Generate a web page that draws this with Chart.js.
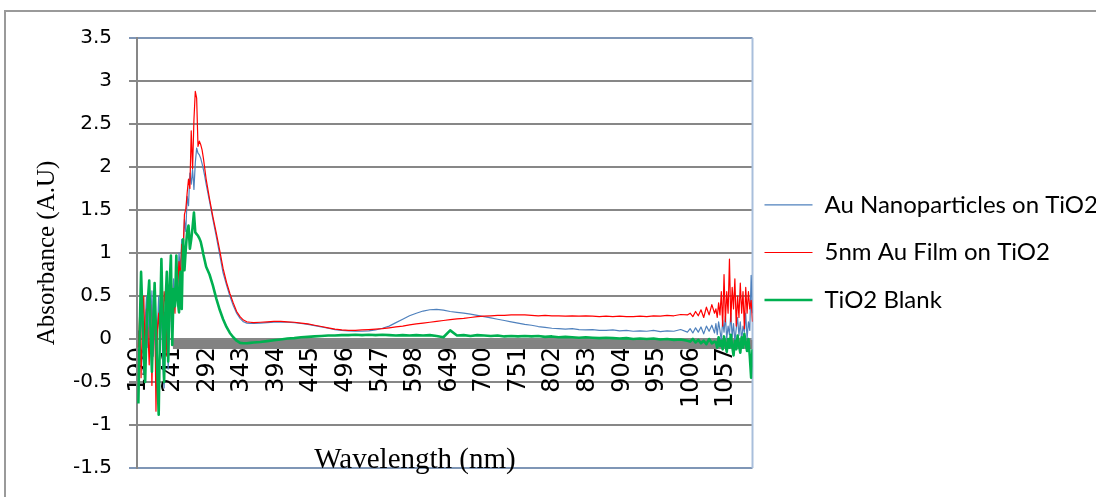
<!DOCTYPE html>
<html lang="en">
<head>
<meta charset="UTF-8">
<title>Absorbance spectra</title>
<style>
  html, body { margin: 0; padding: 0; background: #fff; overflow: hidden; }
  .frame { position: absolute; left: 4px; top: 10px; width: 1200px; height: 600px; border: 2px solid #9a9a9a; }
  #chart { position: absolute; left: 0; top: 0; }
</style>
</head>
<body>
<div class="frame"></div>
<canvas id="chart" width="1096" height="497"></canvas>
<script src="https://cdn.jsdelivr.net/npm/chart.js"></script>
<script>
// wavelength grid (nm), denser where the spectra are noisy
const wavelength = [
  190,192,194,196,198,200,202,204,206,208,210,212,214,216,218,220,222,224,226,228,
  230,232,234,236,238,240,242,244,246,248,250,252,254,256,258,260,262,264,266,268,
  270,272,274,276,278,280,282,284,286,288,290,
  295,300,305,310,315,320,325,330,335,340,345,350,355,360,
  370,380,390,400,410,420,430,440,450,460,470,480,490,500,510,520,530,540,550,560,
  570,580,590,600,610,620,630,640,650,660,670,680,690,700,710,720,730,740,750,760,
  770,780,790,800,810,820,830,840,850,860,870,880,890,900,910,920,930,940,950,960,
  970,980,990,1000,
  1004,1008,1012,1016,1020,1024,1028,1032,1036,1040,
  1042,1044,1046,1048,1050,1052,1054,1056,1058,1060,1062,1064,1066,1068,1070,1072,
  1074,1076,1078,1080,1082,1084,1086,1088,1090,1092,1094,1096
];

const auNanoparticles = [
  0.1,-0.3,0.4,0.0,-0.4,0.2,0.5,-0.1,0.45,0.0,0.56,-0.2,0.3,-0.45,0.1,0.5,-0.1,0.4,-0.3,-0.57,
  0.2,0.3,-0.35,0.1,0.6,0.25,0.7,0.45,0.85,0.6,1.0,0.8,1.16,1.0,1.39,1.25,1.66,1.55,1.93,1.8,
  1.97,1.74,2.05,2.22,2.16,2.14,2.1,2.04,1.97,1.89,1.8,
  1.6,1.39,1.19,0.98,0.77,0.63,0.5,0.39,0.3,0.24,0.2,0.185,0.18,0.18,
  0.185,0.19,0.195,0.2,0.195,0.19,0.18,0.17,0.155,0.14,0.125,0.11,0.1,0.095,0.09,0.09,0.095,0.105,0.125,0.15,
  0.19,0.23,0.27,0.3,0.325,0.34,0.345,0.335,0.32,0.31,0.3,0.29,0.275,0.26,0.245,0.23,0.215,0.2,0.185,0.17,
  0.16,0.145,0.135,0.125,0.12,0.115,0.12,0.11,0.105,0.11,0.1,0.1,0.105,0.095,0.1,0.09,0.095,0.09,0.1,0.085,
  0.095,0.09,0.11,0.08,
  0.12,0.07,0.13,0.08,0.14,0.06,0.15,0.09,0.16,0.07,
  0.18,0.05,0.2,0.1,-0.02,0.22,0.08,0.27,0.0,0.15,0.05,0.3,0.02,0.18,-0.03,0.12,
  0.25,0.04,0.2,-0.02,0.15,0.08,0.3,0.0,0.2,0.1,0.74,0.3
];

const auFilm = [
  -0.1,0.3,-0.45,0.2,0.5,-0.2,0.35,0.1,-0.3,0.4,-0.54,0.2,0.5,-0.84,0.1,0.3,-0.1,0.78,0.1,0.55,
  0.4,-0.2,0.6,0.2,0.75,0.5,0.56,0.3,0.75,0.6,0.9,0.7,1.1,1.0,1.45,1.51,1.7,1.86,1.75,2.42,
  1.98,2.55,2.88,2.8,2.24,2.3,2.26,2.2,2.1,1.98,1.86,
  1.63,1.42,1.23,1.03,0.82,0.66,0.53,0.42,0.32,0.26,0.22,0.2,0.195,0.19,
  0.195,0.2,0.205,0.205,0.2,0.195,0.185,0.175,0.16,0.145,0.13,0.115,0.105,0.1,0.1,0.105,0.11,0.115,0.12,0.13,
  0.14,0.15,0.165,0.175,0.185,0.195,0.205,0.215,0.225,0.235,0.24,0.25,0.26,0.265,0.27,0.275,0.275,0.28,0.28,0.28,
  0.275,0.27,0.275,0.27,0.27,0.265,0.27,0.265,0.27,0.265,0.26,0.265,0.26,0.265,0.26,0.26,0.265,0.26,0.27,0.265,
  0.275,0.27,0.285,0.28,
  0.3,0.26,0.32,0.27,0.34,0.25,0.37,0.28,0.4,0.3,
  0.35,0.25,0.42,0.28,0.55,0.15,0.75,0.2,0.55,0.3,0.93,0.2,0.6,0.35,0.7,0.15,
  0.5,0.25,0.65,0.3,0.55,0.12,0.6,0.3,0.55,0.35,0.45,0.2
];

const tio2Blank = [
  -0.75,0.1,0.78,0.3,-0.2,-0.5,0.1,0.45,0.68,0.1,-0.38,0.2,0.65,0.1,-0.4,-0.88,0.15,0.93,0.2,-0.5,
  0.4,0.78,-0.26,0.6,0.97,-0.07,0.58,0.38,0.97,0.45,0.31,0.78,0.35,1.16,0.8,1.05,1.25,1.32,1.05,1.16,
  1.3,1.47,1.24,1.22,1.2,1.17,1.13,1.06,0.98,0.91,0.84,
  0.75,0.62,0.47,0.34,0.23,0.14,0.07,0.02,-0.02,-0.045,-0.05,-0.05,-0.045,-0.04,
  -0.035,-0.025,-0.015,-0.005,0.005,0.01,0.02,0.025,0.03,0.035,0.04,0.04,0.045,0.045,0.05,0.045,0.05,0.045,0.05,0.045,
  0.04,0.045,0.04,0.045,0.04,0.045,0.035,0.02,0.1,0.04,0.045,0.035,0.045,0.04,0.035,0.04,0.03,0.035,0.03,0.035,
  0.03,0.035,0.025,0.03,0.02,0.025,0.02,0.015,0.02,0.015,0.01,0.015,0.01,0.005,0.01,0.0,0.005,0.0,0.005,-0.005,
  0.0,-0.01,-0.005,-0.02,
  -0.03,0.0,-0.04,-0.01,-0.05,-0.02,-0.06,0.0,-0.05,-0.03,
  -0.04,-0.1,0.02,-0.08,-0.02,-0.12,0.03,-0.06,-0.15,0.0,-0.1,0.05,-0.08,-0.19,-0.02,-0.12,
  0.04,-0.07,-0.16,0.02,-0.1,0.06,-0.05,-0.14,0.0,-0.2,-0.45,-0.12
];

// thick grey baseline under the curves
const bandWavelength = [241, 1096];
const bandValue = [-0.065, -0.065];

const xTickLabels = [190,241,292,343,394,445,496,547,598,649,700,751,802,853,904,955,1006,1057];
const yTicks = [-1.5,-1,-0.5,0,0.5,1,1.5,2,2.5,3,3.5];

const toPoints = (xs, ys) => xs.map((x, i) => ({x: x, y: ys[i]}));

const plotFrame = {
  id: 'plotFrame',
  beforeDatasetsDraw(chart) {
    const {ctx, chartArea} = chart;
    ctx.save();
    ctx.strokeStyle = '#a9bfdc';
    ctx.lineWidth = 2;
    ctx.beginPath();
    ctx.moveTo(chartArea.right, chartArea.top);
    ctx.lineTo(chartArea.right, chartArea.bottom);
    ctx.stroke();
    ctx.restore();
  }
};

const xTitle = {
  id: 'xTitle',
  afterDraw(chart) {
    const {ctx, chartArea} = chart;
    ctx.save();
    ctx.font = '29px "Liberation Serif"';
    ctx.fillStyle = '#000';
    ctx.textAlign = 'center';
    ctx.textBaseline = 'middle';
    ctx.fillText('Wavelength (nm)', chartArea.left + 278, chartArea.bottom - 8);
    ctx.restore();
  }
};

Chart.defaults.font.family = 'Lato';
Chart.defaults.color = '#000';

const tickFont = '"DejaVu Sans", sans-serif';
const edgeColor = (c) => (c.tick && (c.tick.value === 3.5 || c.tick.value === -1.5)) ? '#7f96b6' : '#878787';

new Chart(document.getElementById('chart'), {
  type: 'line',
  data: {
    datasets: [
      {
        label: 'Au Nanoparticles on TiO2',
        data: toPoints(wavelength, auNanoparticles),
        borderColor: '#4f81bd',
        borderWidth: 1.2,
        order: 3
      },
      {
        label: '5nm Au Film on TiO2',
        data: toPoints(wavelength, auFilm),
        borderColor: '#ff0000',
        borderWidth: 1.2,
        order: 2
      },
      {
        label: 'TiO2 Blank',
        data: toPoints(wavelength, tio2Blank),
        borderColor: '#00b050',
        borderWidth: 2.6,
        order: 1
      },
      {
        label: 'baseline',
        data: toPoints(bandWavelength, bandValue),
        borderColor: '#828282',
        borderWidth: 9,
        order: 4
      }
    ]
  },
  options: {
    responsive: false,
    animation: false,
    layout: { padding: { left: 10, top: 38, right: 0, bottom: 18.5 } },
    elements: {
      point: { radius: 0 },
      line: { tension: 0, borderJoinStyle: 'round' }
    },
    scales: {
      x: {
        type: 'linear',
        position: { y: 0 },
        min: 188,
        max: 1096,
        afterBuildTicks: (scale) => { scale.ticks = xTickLabels.map(v => ({value: v})); },
        afterFit: (scale) => { scale.height = 8.5; },
        grid: { display: false, drawTicks: false },
        border: { display: false },
        ticks: {
          autoSkip: false,
          minRotation: 90,
          maxRotation: 90,
          padding: 8,
          font: { family: tickFont, size: 24 },
          callback: (v) => String(v)
        }
      },
      y: {
        min: -1.5,
        max: 3.5,
        afterBuildTicks: (scale) => { scale.ticks = yTicks.map(v => ({value: v})); },
        afterFit: (scale) => { scale.width = 127; },
        grid: { color: edgeColor, lineWidth: 2, tickLength: 8 },
        border: { color: '#878787', width: 2 },
        ticks: {
          padding: 17,
          font: { family: tickFont, size: 20 },
          callback: (v) => String(v)
        },
        title: {
          display: true,
          text: 'Absorbance (A.U)',
          font: { family: 'Liberation Serif', size: 25 },
          padding: { top: 22, bottom: 0 }
        }
      }
    },
    plugins: {
      tooltip: { enabled: false },
      legend: {
        position: 'right',
        maxWidth: 343.5,
        labels: {
          usePointStyle: true,
          pointStyle: 'line',
          pointStyleWidth: 48,
          padding: 12,
          font: { size: 24, lineHeight: 1.48 },
          filter: (item) => item.datasetIndex < 3,
          sort: (a, b) => a.datasetIndex - b.datasetIndex,
          generateLabels(chart) {
            // one-line arrays so the font lineHeight sets the row spacing
            return Chart.defaults.plugins.legend.labels.generateLabels(chart)
              .map(item => Object.assign(item, {text: [item.text]}));
          }
        }
      }
    }
  },
  plugins: [plotFrame, xTitle]
});
</script>
</body>
</html>
